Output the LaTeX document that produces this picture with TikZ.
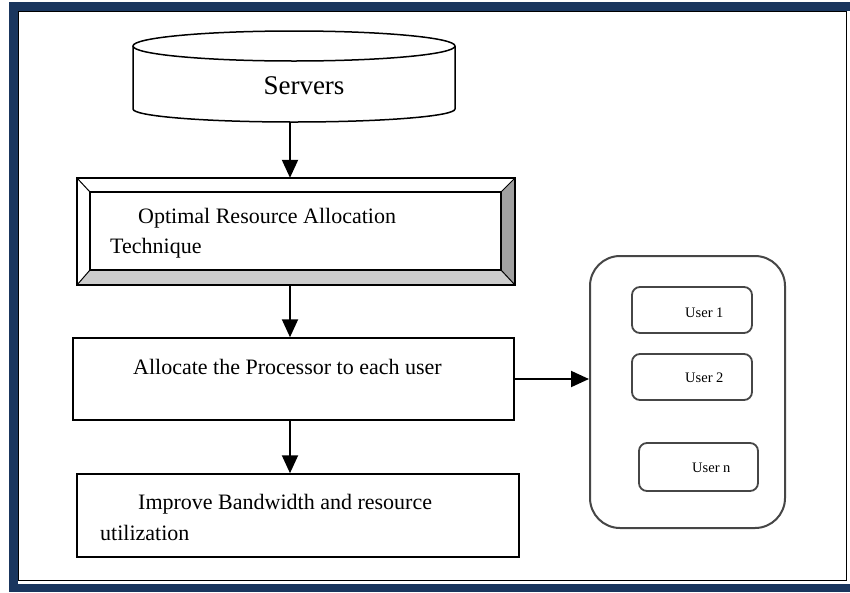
\documentclass[tikz,border=0pt]{standalone}
\usepackage{fontspec}
\setmainfont{Liberation Serif}
\usetikzlibrary{arrows.meta}
\definecolor{navy}{RGB}{26,54,94}
\definecolor{bevelR}{RGB}{160,160,160}
\definecolor{bevelB}{RGB}{204,204,204}
\definecolor{edgegrey}{RGB}{70,70,70}
\begin{document}
\begin{tikzpicture}[x=1pt,y=-1pt,
  box/.style={draw=black, line width=1.5pt, fill=white, inner sep=0pt},
  flow/.style={draw=black, line width=2pt, -{Triangle[width=16pt,length=18pt]}},
  lbl/.style={anchor=base west, inner sep=0pt, font=\fontsize{22}{26}\selectfont},
  userbox/.style={draw=edgegrey, line width=1.8pt, rounded corners=8pt, inner sep=0pt},
  ulbl/.style={anchor=base west, inner sep=0pt, font=\fontsize{14.5}{16}\selectfont}]

\useasboundingbox (0,0) rectangle (850,592);

% page frame
\fill[white] (0,0) rectangle (850,592);
\fill[navy] (9,2) rectangle (850,592);
\fill[white] (18,11) rectangle (850,584);
\draw[black, line width=1.3pt] (18.6,11.6) rectangle (846.6,580.4);

% servers cylinder
\fill[white] (133,46) -- (133,109) .. controls (133,116.2) and (205.1,122) .. (294,122)
  .. controls (382.9,122) and (455,116.2) .. (455,109) -- (455,46) -- cycle;
\draw[line width=1.5pt] (133,46) -- (133,109) .. controls (133,116.2) and (205.1,122) .. (294,122)
  .. controls (382.9,122) and (455,116.2) .. (455,109) -- (455,46);
\draw[line width=1.5pt, fill=white] (294,46) ellipse [x radius=161pt, y radius=15pt];
\node[anchor=base, inner sep=0pt, font=\fontsize{27}{30}\selectfont] (srv) at (304,94) {Servers};
\coordinate (srvbot) at (290,122);

% bevelled technique box
\node[minimum width=438pt, minimum height=107pt, inner sep=0pt, fill=white] (ora) at (296,231.5) {};
\node[minimum width=411pt, minimum height=78pt, inner sep=0pt] (orain) at (295.5,231) {};
\fill[bevelR] (ora.north east) -- (orain.north east) -- (orain.south east) -- (ora.south east) -- cycle;
\fill[bevelB] (ora.south west) -- (orain.south west) -- (orain.south east) -- (ora.south east) -- cycle;
\draw[line width=1.5pt] (ora.north west) rectangle (ora.south east);
\draw[line width=1.5pt] (orain.north west) rectangle (orain.south east);
\foreach \c in {north west, north east, south west, south east}
  \draw[line width=1pt] (ora.\c) -- (orain.\c);
\node[lbl] (ora1) at (138,223) {Optimal Resource Allocation};
\node[lbl] (ora2) at (110,253) {Technique};

% allocation box
\node[box, minimum width=441pt, minimum height=82pt] (alloc) at (293.5,379) {};
\node[lbl] (alloc1) at (133,374) {Allocate the Processor to each user};

% improvement box
\node[box, minimum width=442pt, minimum height=83pt] (impr) at (298,515.5) {};
\node[lbl] (impr1) at (138,509) {Improve Bandwidth and resource};
\node[lbl] (impr2) at (100,540) {utilization};

% users group
\node[draw=edgegrey, line width=2pt, rounded corners=30pt, minimum width=195pt, minimum height=272pt, inner sep=0pt] (users) at (687.5,392) {};
\node[userbox, minimum width=120pt, minimum height=46pt] (u1) at (692,310) {};
\node[userbox, minimum width=120pt, minimum height=46pt] (u2) at (692,377) {};
\node[userbox, minimum width=119pt, minimum height=48pt] (un) at (698.5,467) {};
\node[ulbl] (u1t) at (685,317) {User 1};
\node[ulbl] (u2t) at (685,382) {User 2};
\node[ulbl] (unt) at (692,472) {User n};

% connectors
\draw[flow] (srvbot) -- (ora.north -| srvbot);
\draw[flow] (ora.south -| srvbot) -- (alloc.north -| srvbot);
\draw[flow] (alloc.south -| srvbot) -- (impr.north -| srvbot);
\draw[flow] (alloc.east) -- (alloc.east -| users.west);
\end{tikzpicture}
\end{document}
